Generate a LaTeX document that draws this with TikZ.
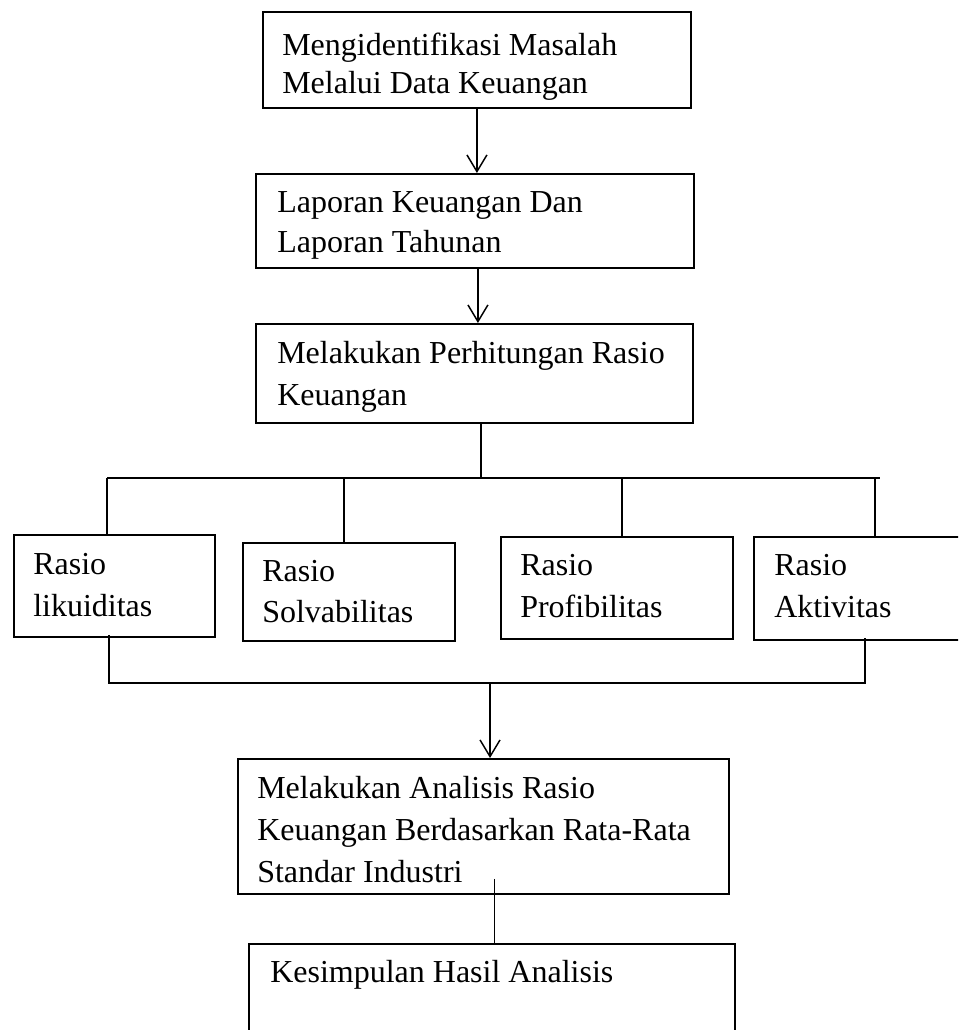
\documentclass[tikz,border=0pt]{standalone}
\usepackage{fontspec}
\setmainfont{Liberation Serif}
\usetikzlibrary{calc,arrows.meta}
\newcommand{\satpx}{0.75pt}
\tikzset{kotak/.style={draw, line width=1.4pt, inner sep=0pt, anchor=north west},
	teks/.style={anchor=north west, inner sep=0pt, align=left, font=\fontsize{24}{31.5}\selectfont},
	garis/.style={line width=1.1pt},
	panah/.style={line width=1.1pt, -{Straight Barb[length=12.5pt,width=15pt]}}}

\begin{document}
\begin{tikzpicture}[x=\satpx, y=-\satpx]
	\useasboundingbox (0,0) rectangle (958,1030);
	\clip (0,0) rectangle (958,1030);
	% les boites du haut
	\node[kotak, minimum width=428*\satpx, minimum height=96*\satpx] (b1) at (262,11) {};
	\node[kotak, minimum width=438*\satpx, minimum height=94*\satpx] (b2) at (255,173) {};
	\node[kotak, minimum width=437*\satpx, minimum height=99*\satpx] (b3) at (255,323) {};
	\node[teks, font=\fontsize{24}{28.5}\selectfont] (t1) at (282,33) {Mengidentifikasi Masalah\\Melalui Data Keuangan};
	\node[teks, font=\fontsize{24}{30}\selectfont] (t2) at (277,191) {Laporan Keuangan Dan\\Laporan Tahunan};
	\node[teks] (t3) at (277,341) {Melakukan Perhitungan Rasio\\Keuangan};
	% les 4 rasio
	\node[kotak, minimum width=201*\satpx, minimum height=102*\satpx] (r1) at (13,534) {};
	\node[kotak, minimum width=212*\satpx, minimum height=98*\satpx] (r2) at (242,542) {};
	\node[kotak, minimum width=232*\satpx, minimum height=102*\satpx] (r3) at (500,536) {};
	\node[kotak, minimum width=240*\satpx, minimum height=103*\satpx] (r4) at (753,536) {};
	\node[teks] (s1) at (33,553) {Rasio\\likuiditas};
	\node[teks, font=\fontsize{24}{30.5}\selectfont] (s2) at (262,560) {Rasio\\Solvabilitas};
	\node[teks] (s3) at (520,554) {Rasio\\Profibilitas};
	\node[teks] (s4) at (774,554) {Rasio\\Aktivitas};
	% les boites du bas
	\node[kotak, minimum width=491*\satpx, minimum height=135*\satpx] (b5) at (237,758) {};
	\node[kotak, minimum width=486*\satpx, minimum height=130*\satpx] (b6) at (248,943) {};
	\node[teks] (t5) at (257,776) {Melakukan Analisis Rasio\\Keuangan Berdasarkan Rata-Rata\\Standar Industri};
	\node[teks] (t6) at (270,960) {Kesimpulan Hasil Analisis};
	% fleches
	\coordinate (p1) at (b1.south);
	\coordinate (p2) at ($(b2.south)+(3,0)$);
	\draw[panah] (p1) -- (p1 |- b2.north);
	\draw[panah] (p2) -- (p2 |- b3.north);
	% branchement vers les rasio
	\coordinate (cab) at (481,478);
	\draw[garis] (cab |- b3.south) -- (cab);
	\draw[garis] (107,478) -- (880,478);
	\foreach \r/\xx in {r1/107, r2/344, r3/622, r4/875}
		\draw[garis] (\xx,478) -- (\xx,0 |- \r.north);
	% regroupement
	\coordinate (kiri) at ($(r1.south west)+(96,-3)$);
	\coordinate (kanan) at ($(r4.south west)+(112,-3)$);
	\coordinate (gab) at (490,683);
	\draw[garis] (kiri) -- (kiri |- gab) -- (kanan |- gab) -- (kanan);
	\draw[panah] (gab) -- (gab |- b5.north);
	\coordinate (p5) at ($(b5.south)+(11,-16)$);
	\draw[garis] (p5) -- (p5 |- b6.north);
\end{tikzpicture}
\end{document}
